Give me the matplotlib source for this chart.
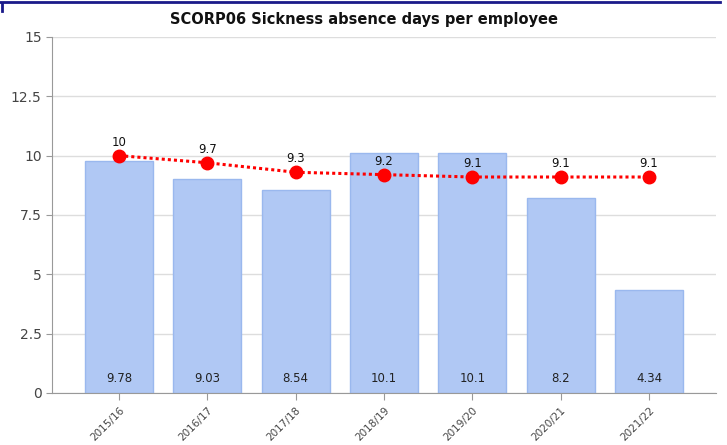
import matplotlib
matplotlib.use("Agg")
import matplotlib.pyplot as plt
from matplotlib.transforms import ScaledTranslation

years = ["2015/16", "2016/17", "2017/18", "2018/19", "2019/20", "2020/21", "2021/22"]
actual = [9.78, 9.03, 8.54, 10.1, 10.1, 8.2, 4.34]
actual_labels = ["9.78", "9.03", "8.54", "10.1", "10.1", "8.2", "4.34"]
target = [10, 9.7, 9.3, 9.2, 9.1, 9.1, 9.1]
target_labels = ["10", "9.7", "9.3", "9.2", "9.1", "9.1", "9.1"]
yticks = [0, 2.5, 5, 7.5, 10, 12.5, 15]
ytick_labels = ["0", "2.5", "5", "7.5", "10", "12.5", "15"]

plt.rcParams["font.family"] = ["DejaVu Sans"]

fig = plt.figure(figsize=(7.27, 4.45), dpi=100)
ax = fig.add_axes([0.0715, 0.1169, 0.9135, 0.8])

x = list(range(len(years)))
ax.bar(x, actual, width=0.77, color="#b0c8f4", edgecolor="#9ab8ee", linewidth=1, zorder=2)
ax.plot(x, target, color="#ff0000", linestyle=(0, (1, 1)), linewidth=2.2,
        marker="o", markersize=9, zorder=3)

for i in x:
    ax.text(i, 0.35, actual_labels[i], ha="center", va="bottom", fontsize=8.5, color="#222222", zorder=4)
    ax.text(i, target[i] + 0.3, target_labels[i], ha="center", va="bottom", fontsize=8.5, color="#111111", zorder=4)

ax.set_xlim(-0.76, 6.76)
ax.set_ylim(0, 15)
ax.set_yticks(yticks)
ax.set_yticklabels(ytick_labels, fontsize=10, color="#444444")
ax.set_xticks(x)
ax.set_xticklabels(years, rotation=45, ha="right", rotation_mode="anchor", fontsize=7.5, color="#444444")
shift = ScaledTranslation(6 / 100, 0, fig.dpi_scale_trans)
for lab in ax.get_xticklabels():
    lab.set_transform(lab.get_transform() + shift)
ax.grid(axis="y", color="#dddddd", linewidth=1, zorder=0)
ax.set_axisbelow(True)
for s in ["top", "right"]:
    ax.spines[s].set_visible(False)
ax.spines["left"].set_color("#999999")
ax.spines["bottom"].set_color("#999999")
ax.tick_params(axis="both", colors="#999999", length=4, labelcolor="#444444")
ax.tick_params(axis="x", length=5)

fig.text(0.5, 0.957, "SCORP06 Sickness absence days per employee", ha="center", va="center",
         fontsize=10.5, fontweight="bold", color="#111111")
fig.add_artist(plt.Line2D([0, 0.99], [0.995, 0.995], color="#1a1a8a", linewidth=2))
fig.add_artist(plt.Line2D([0.003, 0.003], [0.975, 0.99], color="#1a1a8a", linewidth=2))

fig.savefig("out.png", dpi=100)
